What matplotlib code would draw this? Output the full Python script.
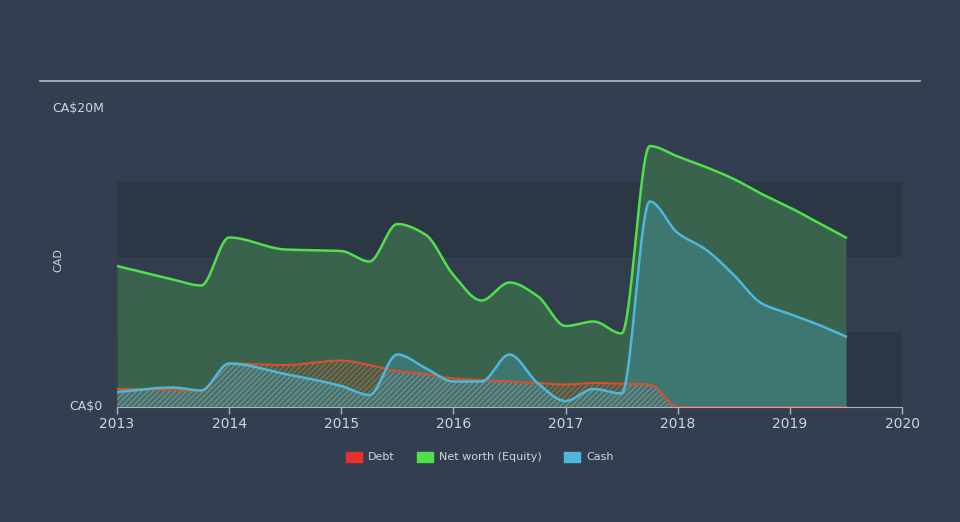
import numpy as np
import matplotlib
matplotlib.use("Agg")
import matplotlib.pyplot as plt
from matplotlib.patches import Patch

# quarterly readings, CA$ millions
years = [2013.0, 2013.5, 2013.75, 2014.0, 2014.5, 2015.0, 2015.25, 2015.5,
         2015.75, 2016.0, 2016.25, 2016.5, 2016.75, 2017.0, 2017.25, 2017.5,
         2017.75, 2018.0, 2018.25, 2018.5, 2018.75, 2019.0, 2019.25, 2019.5]
net_worth = [9.4, 8.5, 8.1, 11.3, 10.5, 10.4, 9.7, 12.2,
             11.5, 8.8, 7.1, 8.3, 7.4, 5.4, 5.7, 4.9,
             17.4, 16.7, 16.0, 15.2, 14.2, 13.3, 12.3, 11.3]
cash = [1.0, 1.3, 1.1, 2.9, 2.2, 1.4, 0.8, 3.5,
        2.6, 1.7, 1.7, 3.5, 1.6, 0.4, 1.2, 0.9,
        13.7, 11.6, 10.5, 8.8, 6.9, 6.2, 5.5, 4.7]
debt = [1.2, 1.15, 1.05, 2.9, 2.8, 3.1, 2.8, 2.4,
        2.2, 1.9, 1.8, 1.7, 1.6, 1.5, 1.6, 1.55,
        1.5, 0.0, 0.0, 0.0, 0.0, 0.0, 0.0, 0.0]

x_ticks = [2013, 2014, 2015, 2016, 2017, 2018, 2019, 2020]

BG = "#333f50"
TXT = "#d0d4da"
plt.rcParams["hatch.linewidth"] = 0.8


def monotone(x, y, n=20):
    # monotone cubic curve through the points (for drawing only)
    x = np.asarray(x, float)
    y = np.asarray(y, float)
    h = np.diff(x)
    d = np.diff(y) / h
    m = np.zeros_like(y)
    m[0], m[-1] = d[0], d[-1]
    for i in range(1, len(y) - 1):
        if d[i - 1] * d[i] > 0:
            w1 = 2 * h[i] + h[i - 1]
            w2 = h[i] + 2 * h[i - 1]
            m[i] = (w1 + w2) / (w1 / d[i - 1] + w2 / d[i])
    xs, ys = [], []
    for i in range(len(x) - 1):
        t = np.linspace(0, 1, n, endpoint=False)
        h00 = 2 * t**3 - 3 * t**2 + 1
        h10 = t**3 - 2 * t**2 + t
        h01 = -2 * t**3 + 3 * t**2
        h11 = t**3 - t**2
        xs.append(x[i] + t * h[i])
        ys.append(h00 * y[i] + h10 * h[i] * m[i] + h01 * y[i + 1] + h11 * h[i] * m[i + 1])
    xs.append([x[-1]])
    ys.append([y[-1]])
    return np.concatenate(xs), np.concatenate(ys)


fig = plt.figure(figsize=(9.6, 5.22), dpi=100, facecolor=BG)
ax = fig.add_axes([117 / 960, 115 / 522, 785 / 960, 300 / 522])
ax.set_facecolor(BG)

# background bands
ax.axhspan(0, 5, color="#2c3746", zorder=0, lw=0)
ax.axhspan(5, 10, color="#323e4e", zorder=0, lw=0)
ax.axhspan(10, 15, color="#2c3746", zorder=0, lw=0)

nx, ny = monotone(years, net_worth)
cx, cy = monotone(years, cash)
dx, dy = monotone(years, debt)
low = np.minimum(cy, dy)

ax.fill_between(nx, ny, color="#3a634e", lw=0, zorder=1)
ax.fill_between(cx, cy, color="#3e7672", lw=0, zorder=2)
# debt hatch: reddish where it sticks out above cash, grey beneath cash
ax.fill_between(dx, low, dy, where=dy > cy, interpolate=True, facecolor="none",
                edgecolor="#b8603f", hatch="//////", lw=0, zorder=3)
ax.fill_between(dx, 0, low, facecolor="none", edgecolor="#8f8a86", hatch="//////",
                lw=0, zorder=3)

ax.plot(dx, dy, color="#d9502f", lw=1.5, zorder=4)
ax.plot(nx, ny, color="#4fe04a", lw=1.8, zorder=5)
ax.plot(cx, cy, color="#4db8dc", lw=1.8, zorder=6)

ax.set_xlim(2013, 2020)
ax.set_ylim(0, 20)
ax.set_xticks(x_ticks)
ax.set_xticklabels([str(v) for v in x_ticks], color=TXT, fontsize=10)
ax.set_yticks([])
ax.tick_params(axis="x", colors="#aab4c0", length=5, width=1, pad=2, labelcolor=TXT)
for s in ["top", "right", "left"]:
    ax.spines[s].set_visible(False)
ax.spines["bottom"].set_color("#aab4c0")

fig.text(52 / 960, 1 - 109 / 522, "CA$20M", color=TXT, fontsize=9, va="center", ha="left")
fig.text(103 / 960, 1 - 407 / 522, "CA$0", color=TXT, fontsize=9, va="center", ha="right")
fig.text(58 / 960, 1 - 260 / 522, "CAD", color=TXT, fontsize=8, va="center", ha="center", rotation=90)

# top rule
fig.add_artist(plt.Line2D([40 / 960, 920 / 960], [1 - 81 / 522, 1 - 81 / 522],
                          color="#b8bec6", lw=1.2))

handles = [Patch(color="#e8302c", label="Debt"),
           Patch(color="#4fe04a", label="Net worth (Equity)"),
           Patch(color="#4db8dc", label="Cash")]
fig.legend(handles=handles, loc="center", bbox_to_anchor=(0.5, 1 - 457 / 522), ncol=3,
           frameon=False, fontsize=8, labelcolor=TXT, handlelength=1.4, handleheight=1.0,
           columnspacing=2.0, handletextpad=0.6)

fig.savefig("out.png", dpi=100, facecolor=BG)
